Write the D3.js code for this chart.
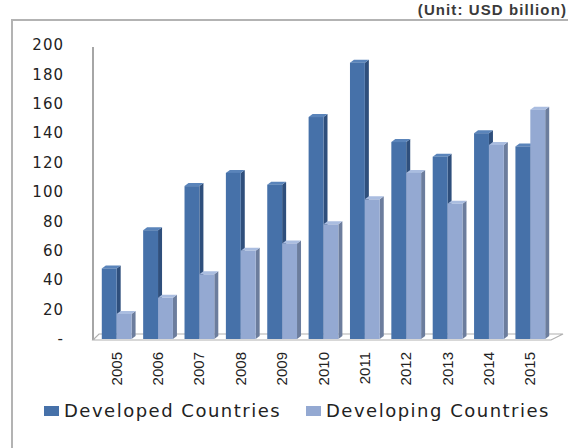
<!doctype html>
<html>
<head>
<meta charset="utf-8" />
<script src="https://d3js.org/d3.v7.min.js"></script>
<style>
  body { margin: 0; background: #fff; }
</style>
</head>
<body>
<div id="chart"></div>
<script>

var years = ["2005","2006","2007","2008","2009","2010","2011","2012","2013","2014","2015"];
var series = ["Developed Countries", "Developing Countries"];
var developed = [48, 74, 104, 113, 105, 151, 188, 134, 124, 140, 131];
var developing = [17, 28, 44, 60, 65, 78, 95, 113, 92, 132, 156];
var yTicks = [0, 20, 40, 60, 80, 100, 120, 140, 160, 180, 200];

var W = 568, H = 448;
var colors = {
  "Developed Countries": {front: "#4671a9", side: "#2f4f7c", top: "#5a84ba"},
  "Developing Countries": {front: "#94a9d2", side: "#6c7d9d", top: "#aabde0"}
};
var dx = 4, dy = -3;   // 3d depth

var svg = d3.select("#chart").append("svg").attr("width", W).attr("height", H);

// outer frame
svg.append("path")
  .attr("d", "M12,448 L12,20 L568,20")
  .attr("fill", "none").attr("stroke", "#b3b3b3").attr("stroke-width", 2);

svg.append("text")
  .attr("x", 567).attr("y", 15)
  .attr("text-anchor", "end")
  .style("font-family", "Liberation Sans, Arial, sans-serif")
  .style("font-size", "15px").style("font-weight", "bold")
  .style("letter-spacing", "1.1px")
  .attr("fill", "#3a3a3a")
  .text("(Unit: USD billion)");

var x0 = d3.scaleBand().domain(years).range([96, 551]).paddingInner(0.28).paddingOuter(0.14);
var x1 = d3.scaleBand().domain(series).range([0, x0.bandwidth()]);
var y = d3.scaleLinear().domain([0, 200]).range([339, 45]);

// y tick labels
svg.append("g").selectAll("text").data(yTicks).enter().append("text")
  .attr("x", 64).attr("y", d => y(d))
  .attr("dy", "0.35em")
  .attr("text-anchor", "end")
  .style("font-family", "DejaVu Sans, Verdana, sans-serif")
  .style("font-size", "15px")
  .style("letter-spacing", "1px")
  .attr("fill", "#222")
  .text(d => d == 0 ? "-" : d);

// axis line and floor
svg.append("line")
  .attr("x1", 93).attr("x2", 93).attr("y1", y(200) + 2).attr("y2", y(0) + 1)
  .attr("stroke", "#a6a6a6").attr("stroke-width", 2);
svg.append("path")
  .attr("d", "M93," + (y(0) + 1) + " L551," + (y(0) + 1) + " L563," + (y(0) - 5) + " L99," + (y(0) - 5) + " Z")
  .attr("fill", "#fff").attr("stroke", "#b0b0b0").attr("stroke-width", 1.2);

// bars
var rows = years.map((yr, i) => ({year: yr, values: [
  {key: series[0], v: developed[i]},
  {key: series[1], v: developing[i]}
]}));

var groups = svg.append("g").selectAll("g").data(rows).enter().append("g")
  .attr("transform", d => "translate(" + x0(d.year) + ",0)");

groups.each(function(d) {
  var g = d3.select(this);
  d.values.forEach(function(b) {
    var bx = x1(b.key), bw = x1.bandwidth(), by = y(b.v), b0 = y(0);
    var c = colors[b.key];
    g.append("path")
      .attr("d", "M" + (bx + bw) + "," + by + " L" + (bx + bw + dx) + "," + (by + dy) +
                 " L" + (bx + bw + dx) + "," + (b0 + dy) + " L" + (bx + bw) + "," + b0 + " Z")
      .attr("fill", c.side);
    g.append("path")
      .attr("d", "M" + bx + "," + by + " L" + (bx + dx) + "," + (by + dy) +
                 " L" + (bx + bw + dx) + "," + (by + dy) + " L" + (bx + bw) + "," + by + " Z")
      .attr("fill", c.top);
    g.append("rect")
      .attr("x", bx).attr("y", by)
      .attr("width", bw).attr("height", b0 - by)
      .attr("fill", c.front);
  });
});

// year labels
svg.append("g").selectAll("text").data(years).enter().append("text")
  .attr("transform", d => "translate(" + (x0(d) + x0.bandwidth() / 2 + 5) + ",352) rotate(-90)")
  .attr("text-anchor", "end")
  .style("font-family", "Liberation Sans Narrow, Arial Narrow, sans-serif")
  .style("font-size", "15px")
  .attr("fill", "#222")
  .text(d => d);

// legend
var legend = svg.append("g").selectAll("g").data(series).enter().append("g")
  .attr("transform", (d, i) => "translate(" + (i == 0 ? 44 : 306) + ",411)");
legend.append("rect")
  .attr("x", 0).attr("y", -5).attr("width", 15).attr("height", 10)
  .attr("fill", d => colors[d].front);
legend.append("text")
  .attr("x", 20).attr("y", 0).attr("dy", "0.35em")
  .style("font-family", "DejaVu Sans, Verdana, sans-serif")
  .style("font-size", "18px")
  .style("letter-spacing", "1.5px")
  .attr("fill", "#222")
  .text(d => d);

</script>
</body>
</html>
